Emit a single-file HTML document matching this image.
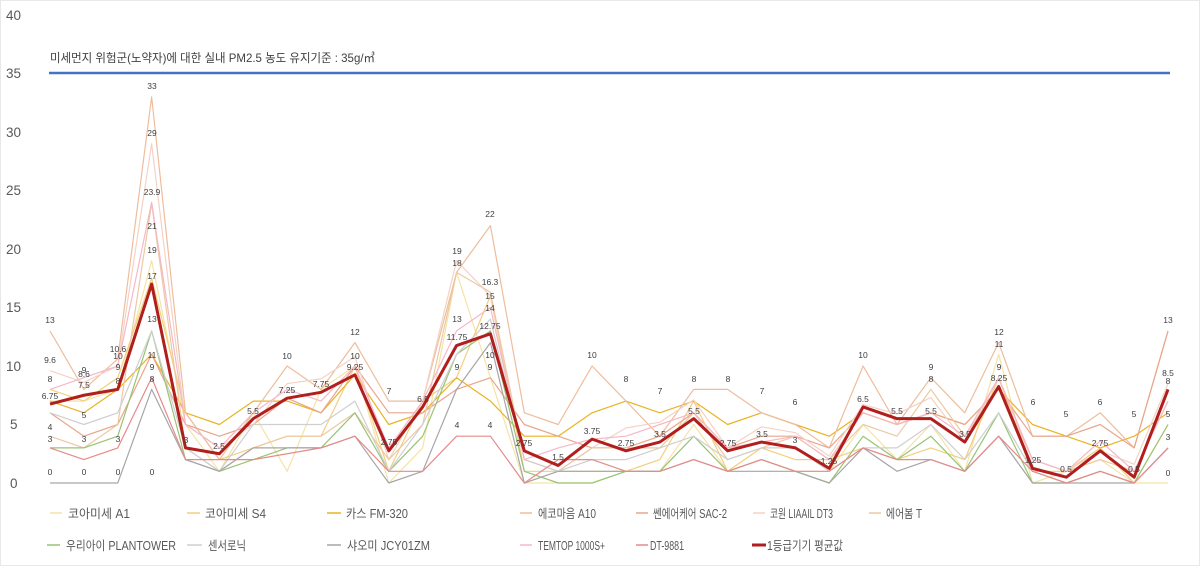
<!DOCTYPE html>
<html><head><meta charset="utf-8"><style>
html,body{margin:0;padding:0;background:#fff;}
svg{display:block;font-family:"Liberation Sans","Noto Sans CJK KR",sans-serif;}
.ax{font-size:13.5px;fill:#595959;}
.dl{font-size:8.5px;fill:#404040;text-anchor:middle;}
.lg{font-size:12.5px;fill:#595959;}
</style></head><body>
<svg width="1200" height="566" viewBox="0 0 1200 566">
<rect x="0.5" y="0.5" width="1199" height="565" fill="#fff" stroke="#e8e8e8"/>
<g class="ax">
<text x="6" y="20">40</text><text x="6" y="78">35</text><text x="6" y="137">30</text>
<text x="6" y="195">25</text><text x="6" y="254">20</text><text x="6" y="312">15</text>
<text x="6" y="371">10</text><text x="10" y="429">5</text><text x="10" y="488">0</text>
</g>
<text x="50" y="62" font-size="12" fill="#404040" textLength="325" lengthAdjust="spacingAndGlyphs">미세먼지 위험군(노약자)에 대한 실내 PM2.5 농도 유지기준 : 35g/㎥</text>
<line x1="49" y1="73" x2="1170" y2="73" stroke="#4472c4" stroke-width="2.5"/>
<g transform="translate(50,483) scale(33.88,-11.7)" fill="none" stroke-width="1.2" stroke-linejoin="round">
<polyline vector-effect="non-scaling-stroke" stroke="#f5e3a6" points="0,7 1,7 2,8 3,19 4,5 5,1 6,6 7,1 8,8 9,10 10,0 11,3 12,18 13,9 14,0 15,0 16,0 17,1 18,1 19,5 20,1 21,2 22,1 23,1 24,5 25,2 26,5 27,1 28,11 29,0 30,1 31,2 32,0 33,0"/>
<polyline vector-effect="non-scaling-stroke" stroke="#f3cf7e" points="0,8 1,7 2,9 3,17.5 4,6 5,2 6,3 7,4 8,4 9,10 10,1 11,7 12,9 13,16 14,1 15,1 16,1 17,1 18,2 19,7 20,1 21,3 22,2 23,2 24,3 25,2 26,3 27,2 28,9 29,1 30,1 31,3 32,0 33,5"/>
<polyline vector-effect="non-scaling-stroke" stroke="#e9b422" points="0,7 1,6 2,8 3,11 4,6 5,5 6,7 7,7 8,6 9,9.25 10,5 11,6 12,9 13,7 14,4 15,4 16,6 17,7 18,6 19,7 20,5 21,6 22,5 23,4 24,6 25,5 26,6 27,5 28,8 29,5 30,4 31,3 32,4 33,6"/>
<polyline vector-effect="non-scaling-stroke" stroke="#eebd9c" points="0,13 1,8 2,10.6 3,33 4,6 5,2 6,6 7,10 8,8 9,12 10,7 11,7 12,18 13,22 14,6 15,5 16,10 17,7 18,4 19,8 20,8 21,6 22,5 23,3 24,10 25,5 26,9 27,6 28,12 29,4 30,4 31,6 32,3 33,13"/>
<polyline vector-effect="non-scaling-stroke" stroke="#e9a68c" points="0,6 1,4 2,5 3,11 4,5 5,4 6,5 7,7.25 8,6 9,10 10,6 11,6 12,8 13,9 14,5 15,4 16,3 17,3 18,4 19,6 20,3 21,4 22,4 23,3 24,6 25,5 26,6 27,5 28,8 29,4 30,4 31,5 32,3 33,13"/>
<polyline vector-effect="non-scaling-stroke" stroke="#f4d2c4" points="0,9.6 1,8.6 2,10 3,29 4,5 5,3 6,5 7,8.5 8,8.9 9,10.8 10,2 11,7 12,19 13,16 14,2 15,1 16,3 17,4.7 18,5.2 19,7.1 20,3 21,4.8 22,4.3 23,2.3 24,6.7 25,5.9 26,7.3 27,3.5 28,9 29,2 30,1 31,2.75 32,1.6 33,8.5"/>
<polyline vector-effect="non-scaling-stroke" stroke="#ecc9a2" points="0,4 1,3 2,5 3,23.9 4,3 5,1 6,3 7,4 8,4 9,6 10,2 11,5 12,18 13,16.3 14,2 15,1 16,3 17,3 18,3 19,6 20,2 21,3 22,4 23,2 24,5 25,4 26,8 27,4 28,8.25 29,2 30,1 31,2 32,1 33,7"/>
<polyline vector-effect="non-scaling-stroke" stroke="#98c476" points="0,3 1,3 2,4 3,13 4,2 5,1 6,2 7,3 8,3 9,6 10,1 11,4 12,11 13,13 14,1 15,0 16,0 17,1 18,1 19,4 20,1 21,2 22,1 23,0 24,4 25,2 26,4 27,1 28,6 29,0 30,0 31,1 32,0 33,5"/>
<polyline vector-effect="non-scaling-stroke" stroke="#cfcfcf" points="0,6 1,5 2,6 3,13 4,3 5,1 6,5 7,5 8,5 9,7 10,1 11,5 12,11 13,14 14,2 15,1 16,2 17,2 18,3 19,4 20,2 21,3 22,3 23,1 24,3 25,3 26,5 27,2 28,6 29,1 30,0 31,1 32,0 33,3"/>
<polyline vector-effect="non-scaling-stroke" stroke="#a6a6a6" points="0,0 1,0 2,0 3,8 4,2 5,1 6,3 7,3 8,3 9,4 10,0 11,1 12,8 13,12 14,0 15,1 16,1 17,1 18,1 19,2 20,1 21,1 22,1 23,0 24,3 25,1 26,2 27,1 28,4 29,0 30,0 31,0 32,0 33,3"/>
<polyline vector-effect="non-scaling-stroke" stroke="#f5b8c8" points="0,8 1,9 2,10 3,24 4,5 5,3 6,6 7,8 8,7 9,10 10,3 11,7 12,13 13,15 14,2 15,3 16,3.75 17,4 18,5 19,6 20,3 21,3.5 22,4 23,2 24,6 25,5 26,6 27,4 28,9 29,2 30,1 31,3.6 32,1 33,7"/>
<polyline vector-effect="non-scaling-stroke" stroke="#e68a8a" points="0,3 1,2 2,3 3,9 4,2 5,2 6,2 7,2.5 8,3 9,4 10,1 11,1 12,4 13,4 14,0 15,2 16,2 17,1 18,1 19,2 20,1 21,2 22,1 23,1 24,3 25,2 26,2 27,1 28,4 29,1 30,0 31,1 32,0 33,3"/>
<polyline vector-effect="non-scaling-stroke" stroke="#b01e1e" stroke-width="3" points="0,6.75 1,7.5 2,8 3,17 4,3 5,2.5 6,5.5 7,7.25 8,7.75 9,9.25 10,2.75 11,6.5 12,11.75 13,12.75 14,2.75 15,1.5 16,3.75 17,2.75 18,3.5 19,5.5 20,2.75 21,3.5 22,3 23,1.25 24,6.5 25,5.5 26,5.5 27,3.5 28,8.25 29,1.25 30,0.5 31,2.75 32,0.5 33,8"/>
</g>
<g class="dl">
<text x="50" y="399">6.75</text><text x="84" y="388">7.5</text><text x="118" y="384">8</text><text x="152" y="279">17</text>
<text x="186" y="443">3</text><text x="219" y="449">2.5</text><text x="253" y="414">5.5</text><text x="287" y="393">7.25</text>
<text x="321" y="387">7.75</text><text x="355" y="370">9.25</text><text x="389" y="445">2.75</text><text x="423" y="402">6.5</text>
<text x="457" y="340">11.75</text><text x="490" y="329">12.75</text><text x="524" y="446">2.75</text><text x="558" y="460">1.5</text>
<text x="592" y="434">3.75</text><text x="626" y="446">2.75</text><text x="660" y="437">3.5</text><text x="694" y="414">5.5</text>
<text x="728" y="446">2.75</text><text x="762" y="437">3.5</text><text x="795" y="443">3</text><text x="829" y="464">1.25</text>
<text x="863" y="402">6.5</text><text x="897" y="414">5.5</text><text x="931" y="414">5.5</text><text x="965" y="437">3.5</text>
<text x="999" y="381">8.25</text><text x="1033" y="463">1.25</text><text x="1066" y="472">0.5</text><text x="1100" y="446">2.75</text>
<text x="1134" y="472">0.5</text><text x="1168" y="384">8</text>
<text x="152" y="89">33</text><text x="152" y="136">29</text><text x="152" y="195">23.9</text><text x="152" y="229">21</text><text x="152" y="253">19</text><text x="152" y="322">13</text><text x="152" y="358">11</text><text x="152" y="370">9</text><text x="152" y="382">8</text>
<text x="50" y="323">13</text><text x="50" y="363">9.6</text><text x="50" y="382">8</text><text x="50" y="430">4</text><text x="50" y="442">3</text>
<text x="84" y="373">9</text><text x="84" y="377">8.6</text><text x="84" y="418">5</text><text x="84" y="442">3</text>
<text x="118" y="352">10.6</text><text x="118" y="359">10</text><text x="118" y="370">9</text><text x="118" y="442">3</text>
<text x="50" y="475">0</text><text x="84" y="475">0</text><text x="118" y="475">0</text><text x="152" y="475">0</text>
<text x="287" y="359">10</text><text x="355" y="335">12</text><text x="355" y="359">10</text><text x="389" y="394">7</text>
<text x="457" y="254">19</text><text x="457" y="266">18</text><text x="457" y="322">13</text><text x="457" y="370">9</text><text x="457" y="428">4</text>
<text x="490" y="217">22</text><text x="490" y="285">16.3</text><text x="490" y="299">15</text><text x="490" y="311">14</text><text x="490" y="358">10</text><text x="490" y="370">9</text><text x="490" y="428">4</text>
<text x="592" y="358">10</text><text x="626" y="382">8</text><text x="660" y="394">7</text><text x="694" y="382">8</text><text x="728" y="382">8</text><text x="762" y="394">7</text><text x="795" y="405">6</text>
<text x="863" y="358">10</text><text x="931" y="370">9</text><text x="931" y="382">8</text><text x="999" y="335">12</text><text x="999" y="347">11</text><text x="999" y="370">9</text>
<text x="1033" y="405">6</text><text x="1066" y="417">5</text><text x="1100" y="405">6</text><text x="1134" y="417">5</text>
<text x="1168" y="323">13</text><text x="1168" y="376">8.5</text><text x="1168" y="417">5</text><text x="1168" y="440">3</text><text x="1168" y="476">0</text>
</g>
<g class="lg">
<line x1="50" y1="513" x2="62" y2="513" stroke="#f5e3a6" stroke-width="1.5"/><text x="68" y="518" textLength="62" lengthAdjust="spacingAndGlyphs">코아미세 A1</text>
<line x1="187" y1="513" x2="200" y2="513" stroke="#f3cf7e" stroke-width="1.5"/><text x="205" y="518" textLength="61" lengthAdjust="spacingAndGlyphs">코아미세 S4</text>
<line x1="327" y1="513" x2="341" y2="513" stroke="#e9b422" stroke-width="1.5"/><text x="346" y="518" textLength="62" lengthAdjust="spacingAndGlyphs">카스 FM-320</text>
<line x1="520" y1="513" x2="532" y2="513" stroke="#eebd9c" stroke-width="1.5"/><text x="538" y="518" textLength="58" lengthAdjust="spacingAndGlyphs">에코마음 A10</text>
<line x1="636" y1="513" x2="648" y2="513" stroke="#e9a68c" stroke-width="1.5"/><text x="653" y="518" textLength="74" lengthAdjust="spacingAndGlyphs">쎈에어케어 SAC-2</text>
<line x1="753" y1="513" x2="765" y2="513" stroke="#f4d2c4" stroke-width="1.5"/><text x="770" y="518" textLength="63" lengthAdjust="spacingAndGlyphs">코원 LIAAIL DT3</text>
<line x1="869" y1="513" x2="881" y2="513" stroke="#ecc9a2" stroke-width="1.5"/><text x="886" y="518" textLength="36" lengthAdjust="spacingAndGlyphs">에어봄 T</text>
<line x1="47" y1="545" x2="60" y2="545" stroke="#98c476" stroke-width="1.5"/><text x="66" y="550" textLength="110" lengthAdjust="spacingAndGlyphs">우리아이 PLANTOWER</text>
<line x1="187" y1="545" x2="202" y2="545" stroke="#cfcfcf" stroke-width="1.5"/><text x="208" y="550" textLength="38" lengthAdjust="spacingAndGlyphs">센서로닉</text>
<line x1="327" y1="545" x2="341" y2="545" stroke="#a6a6a6" stroke-width="1.5"/><text x="347" y="550" textLength="83" lengthAdjust="spacingAndGlyphs">샤오미 JCY01ZM</text>
<line x1="520" y1="545" x2="532" y2="545" stroke="#f5b8c8" stroke-width="1.5"/><text x="538" y="550" textLength="67" lengthAdjust="spacingAndGlyphs">TEMTOP 1000S+</text>
<line x1="636" y1="545" x2="648" y2="545" stroke="#e68a8a" stroke-width="1.5"/><text x="650" y="550" textLength="34" lengthAdjust="spacingAndGlyphs">DT-9881</text>
<line x1="752" y1="545" x2="766" y2="545" stroke="#b01e1e" stroke-width="3"/><text x="767" y="550" textLength="76" lengthAdjust="spacingAndGlyphs">1등급기기 평균값</text>
</g>
</svg>
</body></html>
